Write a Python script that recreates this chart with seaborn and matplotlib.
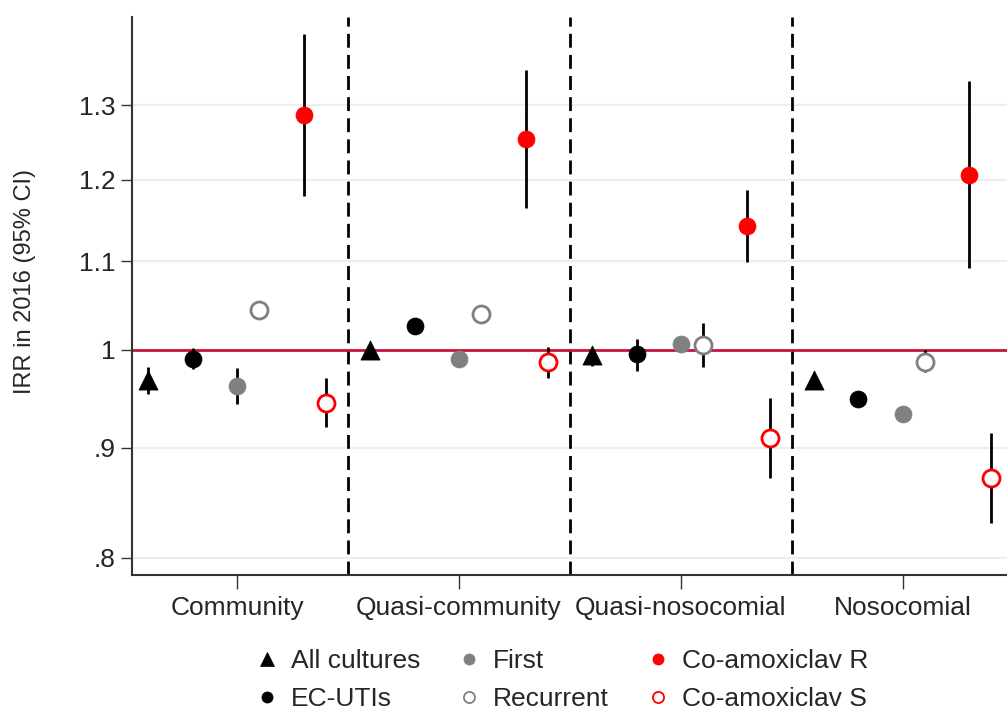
import numpy as np
import pandas as pd
import matplotlib
matplotlib.use("Agg")
import matplotlib.pyplot as plt
from matplotlib.lines import Line2D
import seaborn as sns

groups = ["Community", "Quasi-community", "Quasi-nosocomial", "Nosocomial"]
series = ["All cultures", "EC-UTIs", "First", "Recurrent", "Co-amoxiclav R", "Co-amoxiclav S"]

irr_all = [0.968, 1.000, 0.994, 0.968]
lo_all = [0.954, 0.996, 0.983, 0.963]
hi_all = [0.982, 1.004, 1.002, 0.973]

irr_ec = [0.990, 1.026, 0.995, 0.949]
lo_ec = [0.980, 1.021, 0.978, 0.945]
hi_ec = [1.002, 1.031, 1.012, 0.953]

irr_first = [0.962, 0.990, 1.006, 0.933]
lo_first = [0.944, 0.986, 1.000, 0.927]
hi_first = [0.981, 0.994, 1.012, 0.939]

irr_rec = [1.044, 1.039, 1.005, 0.987]
lo_rec = [1.040, 1.033, 0.982, 0.976]
hi_rec = [1.048, 1.045, 1.029, 1.000]

irr_r = [1.286, 1.254, 1.142, 1.206]
lo_r = [1.180, 1.164, 1.099, 1.092]
hi_r = [1.403, 1.350, 1.187, 1.334]

irr_s = [0.945, 0.987, 0.910, 0.871]
lo_s = [0.920, 0.970, 0.871, 0.830]
hi_s = [0.970, 1.003, 0.950, 0.915]

yticks = [0.8, 0.9, 1.0, 1.1, 1.2, 1.3]
ytick_labels = [".8", ".9", "1", "1.1", "1.2", "1.3"]

offsets = [-0.4, -0.2, 0.0, 0.1, 0.3, 0.4]
styles = [
    dict(marker="^", fc="black", ec="black"),
    dict(marker="o", fc="black", ec="black"),
    dict(marker="o", fc="#808080", ec="#808080"),
    dict(marker="o", fc="white", ec="#808080"),
    dict(marker="o", fc="#ff0000", ec="#ff0000"),
    dict(marker="o", fc="white", ec="#ff0000"),
]
data = [
    (irr_all, lo_all, hi_all),
    (irr_ec, lo_ec, hi_ec),
    (irr_first, lo_first, hi_first),
    (irr_rec, lo_rec, hi_rec),
    (irr_r, lo_r, hi_r),
    (irr_s, lo_s, hi_s),
]

sns.set_theme(style="white")
plt.rcParams["font.family"] = ["Liberation Sans", "DejaVu Sans"]

fig = plt.figure(figsize=(10.07, 7.10), dpi=100)
ax = fig.add_axes([132 / 1007, 1 - 575 / 710, 1 - 132 / 1007, (575 - 17) / 710])

ax.set_yscale("log")
ax.set_ylim(0.7853, 1.4293)
ax.set_xlim(-0.474, 3.47)

for t in yticks:
    ax.axhline(t, color="#e9eff2", lw=1.6, zorder=0)

for xv in [0.5, 1.5, 2.5]:
    ax.axvline(xv, color="black", lw=2, ls=(0, (5, 2.6)), zorder=1)

ax.axhline(1.0, color="#c8143c", lw=2, zorder=2)

for i, (name, (v, lo, hi), st, off) in enumerate(zip(series, data, styles, offsets)):
    xs = np.arange(len(groups)) + off
    df = pd.DataFrame({"x": xs, "y": v, "lo": lo, "hi": hi, "series": name})
    ax.vlines(df["x"], df["lo"], df["hi"], color="black", lw=2, zorder=3)
    sns.scatterplot(data=df, x="x", y="y", ax=ax, marker=st["marker"],
                    s=150 if st["marker"] == "o" else 190,
                    facecolor=st["fc"], edgecolor=st["ec"],
                    linewidth=2 if st["fc"] == "white" else 0.5,
                    zorder=4, legend=False)

ax.set_yticks(yticks)
ax.set_yticklabels(ytick_labels)
ax.yaxis.set_minor_locator(matplotlib.ticker.NullLocator())
ax.set_xticks(range(len(groups)))
ax.set_xticklabels(groups)
ax.tick_params(axis="y", which="major", left=True, length=8, width=1, labelsize=19, pad=4, color="#333333")
ax.tick_params(axis="x", which="major", bottom=True, length=10, width=1, labelsize=19, pad=5, color="#333333")
ax.set_xlabel("")
ax.set_ylabel("IRR in 2016 (95% CI)", fontsize=17)
ax.yaxis.set_label_coords((36 - 132) / 875, (575 - 282) / 558)

for s in ["top", "right"]:
    ax.spines[s].set_visible(False)
for s in ["left", "bottom"]:
    ax.spines[s].set_color("#333333")
    ax.spines[s].set_linewidth(1.5)

handles = []
for name, st in zip(series, styles):
    handles.append(Line2D([], [], ls="none", marker=st["marker"],
                          markerfacecolor=st["fc"], markeredgecolor=st["ec"],
                          markeredgewidth=1.3 if st["fc"] == "white" else 0.5,
                          markersize=8 if st["marker"] == "o" else 10, label=name))
fig.legend(handles=handles, ncol=3, loc="center", bbox_to_anchor=(561 / 1007, 1 - 680 / 710),
           frameon=False, fontsize=19, handletextpad=0.4, columnspacing=1.37,
           labelspacing=0.55, handlelength=1.0)

fig.savefig("out.png", dpi=100)
